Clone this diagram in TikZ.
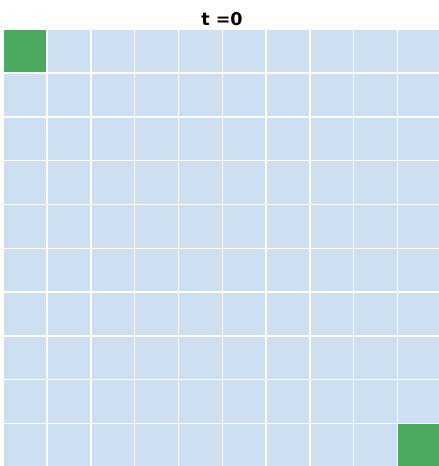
\documentclass[tikz,border=0pt]{standalone}
\usepackage{fontspec}
\setmainfont{DejaVu Sans}
\definecolor{cellblue}{RGB}{205,222,240}
\definecolor{cellgreen}{RGB}{74,170,94}
\begin{document}
\begin{tikzpicture}[x=1pt,y=-1pt,
  cellbox/.style={fill=cellblue,draw=none,minimum width=42.4pt,minimum height=42.4pt,inner sep=0pt,outer sep=0pt,anchor=north west},
  goalbox/.style={cellbox,fill=cellgreen},
  titletext/.style={font=\fontsize{17.5}{20}\selectfont\bfseries,inner sep=0pt,anchor=base}]
\useasboundingbox (0,0) rectangle (439,466);
\fill[white] (0,0) rectangle (439,466);
\foreach \i in {0,...,9}{
  \foreach \j in {0,...,9}{
    \node[cellbox] (c-\i-\j) at ({4+43.8*\j},{30+43.8*\i}) {};
  }
}
\node[goalbox] (start) at (4,30) {};
\node[goalbox] (goal) at ({4+43.8*9},{30+43.8*9}) {};
\node[titletext] (title) at (222,25) {t =0};
\end{tikzpicture}
\end{document}
